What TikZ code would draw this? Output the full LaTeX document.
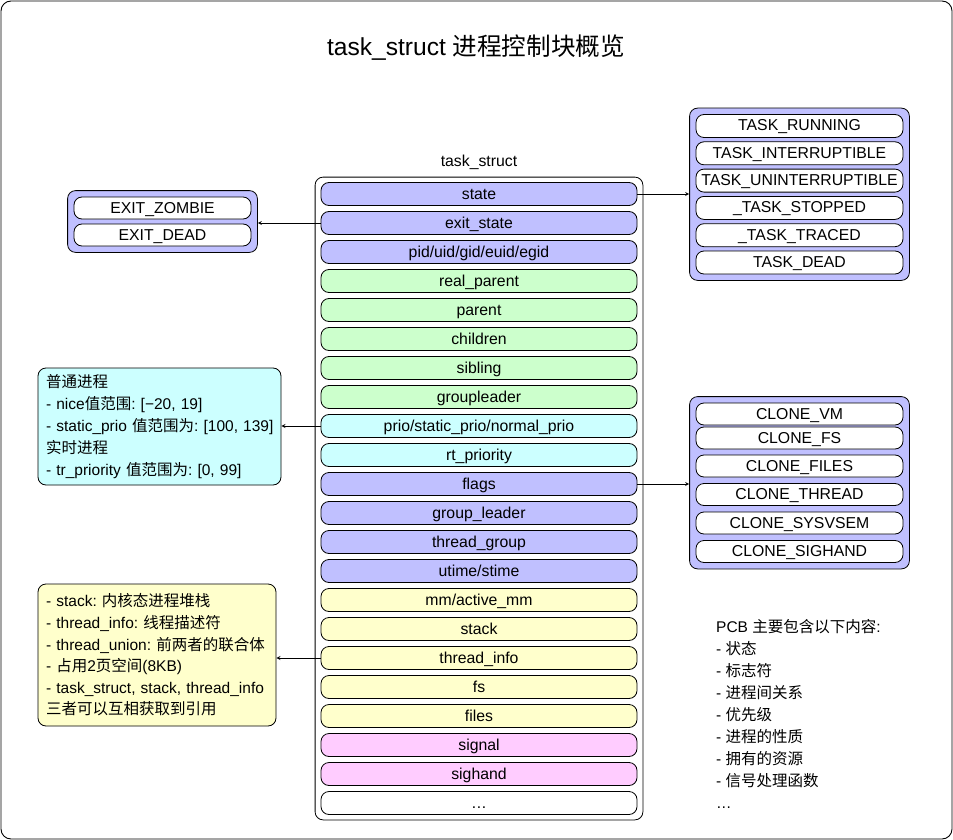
\documentclass[tikz,border=0pt]{standalone}
\usepackage{fontspec}
\setmainfont{Liberation Sans}
\newfontfamily\cjk{Noto Sans CJK SC}
\newcommand{\zh}[1]{{\cjk #1}}
\frenchspacing
\usetikzlibrary{arrows, positioning, fit, backgrounds}

\definecolor{stateblue}{RGB}{192,192,255}
\definecolor{relgreen}{RGB}{204,255,204}
\definecolor{priocyan}{RGB}{204,255,255}
\definecolor{memyellow}{RGB}{255,255,204}
\definecolor{sigpink}{RGB}{255,204,255}

\tikzstyle{field} = [rectangle, rounded corners=8pt, draw=black, line width=0.8pt, minimum width=316pt, minimum height=23pt, inner sep=0pt, text height=12.5pt, text depth=2.5pt, font=\fontsize{15.8}{18}\selectfont]
\tikzstyle{flag} = [field, minimum width=207pt, fill=white]
\tikzstyle{group} = [rectangle, rounded corners=8pt, draw=black, line width=0.8pt, fill=stateblue, inner sep=6pt]
\tikzstyle{note} = [rectangle, rounded corners=8pt, draw=black, line width=0.8pt, align=left, inner sep=0pt]
\tikzstyle{arrow} = [line width=0.8pt, ->, >=stealth]

\begin{document}
\begin{tikzpicture}[x=1pt, y=-1pt, node distance=5.2pt]
    \useasboundingbox (0,0) rectangle (953,840);
    \draw [rounded corners=10pt, line width=0.9pt] (1,1) rectangle (952,839);
    \node (title) at (476,48) {\fontsize{24.6}{28}\selectfont task\_struct \zh{进程控制块概览}};

    % Fields of task_struct
    \node (state) [field, fill=stateblue] at (479,194) {state};
    \node (exitstate) [field, fill=stateblue, below=of state] {exit\_state};
    \node (pid) [field, fill=stateblue, below=of exitstate] {pid/uid/gid/euid/egid};
    \node (realparent) [field, fill=relgreen, below=of pid] {real\_parent};
    \node (parent) [field, fill=relgreen, below=of realparent] {parent};
    \node (children) [field, fill=relgreen, below=of parent] {children};
    \node (sibling) [field, fill=relgreen, below=of children] {sibling};
    \node (groupleader) [field, fill=relgreen, below=of sibling] {groupleader};
    \node (prio) [field, fill=priocyan, below=of groupleader] {prio/static\_prio/normal\_prio};
    \node (rtprio) [field, fill=priocyan, below=of prio] {rt\_priority};
    \node (flags) [field, fill=stateblue, below=of rtprio] {flags};
    \node (leader) [field, fill=stateblue, below=of flags] {group\_leader};
    \node (threadgroup) [field, fill=stateblue, below=of leader] {thread\_group};
    \node (utime) [field, fill=stateblue, below=of threadgroup] {utime/stime};
    \node (mm) [field, fill=memyellow, below=of utime] {mm/active\_mm};
    \node (stack) [field, fill=memyellow, below=of mm] {stack};
    \node (threadinfo) [field, fill=memyellow, below=of stack] {thread\_info};
    \node (fs) [field, fill=memyellow, below=of threadinfo] {fs};
    \node (files) [field, fill=memyellow, below=of fs] {files};
    \node (signal) [field, fill=sigpink, below=of files] {signal};
    \node (sighand) [field, fill=sigpink, below=of signal] {sighand};
    \node (more) [field, fill=white, below=of sighand] {…};

    \node (task) [draw, rounded corners=8pt, line width=0.8pt, inner xsep=5.5pt, inner ysep=5pt, fit=(state)(more)] {};
    \node (tasklabel) [above=7pt of task, inner sep=0pt, text height=12.5pt, text depth=2.5pt, font=\fontsize{15.8}{18}\selectfont] {task\_struct};

    % exit states
    \node (zombie) [flag, minimum width=177pt, minimum height=22pt] at (162.5,208) {EXIT\_ZOMBIE};
    \node (exitdead) [flag, minimum width=177pt, minimum height=22pt, below=4.2pt of zombie] {EXIT\_DEAD};

    % task states
    \node (running) [flag] at (799.5,126) {TASK\_RUNNING};
    \node (interruptible) [flag, below=3.5pt of running] {TASK\_INTERRUPTIBLE};
    \node (uninterruptible) [flag, below=3.5pt of interruptible] {TASK\_UNINTERRUPTIBLE};
    \node (stopped) [flag, below=3.5pt of uninterruptible] {\_TASK\_STOPPED};
    \node (traced) [flag, below=3.5pt of stopped] {\_TASK\_TRACED};
    \node (taskdead) [flag, below=3.5pt of traced] {TASK\_DEAD};

    % clone flags
    \node (vm) [flag, minimum height=22pt] at (799.5,414) {CLONE\_VM};
    \node (clonefs) [flag, minimum height=22pt, below=1.2pt of vm] {CLONE\_FS};
    \node (clonefiles) [flag, minimum height=22pt, below=5.2pt of clonefs] {CLONE\_FILES};
    \node (clonethread) [flag, minimum height=22pt, below=5.7pt of clonefiles] {CLONE\_THREAD};
    \node (sysvsem) [flag, minimum height=22pt, below=5.7pt of clonethread] {CLONE\_SYSVSEM};
    \node (clonesighand) [flag, minimum height=22pt, below=5.7pt of sysvsem] {CLONE\_SIGHAND};

    \begin{scope}[on background layer]
        \node (exitbox) [group, fit=(zombie)(exitdead)] {};
        \node (statebox) [group, fit=(running)(taskdead)] {};
        \node (clonebox) [group, fit=(vm)(clonesighand)] {};
    \end{scope}

    % notes
    \node (prionote) [note, fill=priocyan, minimum width=243pt, minimum height=117pt, text width=235pt, font=\fontsize{15.5}{21.8}\selectfont] at (159.5,426.5)
        {\hspace*{4pt}\zh{普通进程}\\\hspace*{4pt}- nice\zh{值范围}: [−20, 19]\\\hspace*{4pt}- static\_prio \zh{值范围为}: [100, 139]\\\hspace*{4pt}\zh{实时进程}\\\hspace*{4pt}- tr\_priority \zh{值范围为}: [0, 99]};
    \node (stacknote) [note, fill=memyellow, minimum width=238pt, minimum height=142pt, text width=222pt, font=\fontsize{15.5}{21.6}\selectfont] at (157,655)
        {- stack: \zh{内核态进程堆栈}\\- thread\_info: \zh{线程描述符}\\- thread\_union: \zh{前两者的联合体}\\- \zh{占用}2\zh{页空间}(8KB)\\- task\_struct, stack, thread\_info\\\zh{三者可以互相获取到引用}};
    \node (pcb) [anchor=north west, align=left, inner sep=0pt, font=\fontsize{15.5}{22}\selectfont] at (716,619)
        {PCB \zh{主要包含以下内容}:\\- \zh{状态}\\- \zh{标志符}\\- \zh{进程间关系}\\- \zh{优先级}\\- \zh{进程的性质}\\- \zh{拥有的资源}\\- \zh{信号处理函数}\\…};

    % Arrows
    \draw [arrow] (state.east) -- (state.east -| statebox.west);
    \draw [arrow] (exitstate.west) -- (exitstate.west -| exitbox.east);
    \draw [arrow] (prio.west) -- (prio.west -| prionote.east);
    \draw [arrow] (flags.east) -- (flags.east -| clonebox.west);
    \draw [arrow] (threadinfo.west) -- (threadinfo.west -| stacknote.east);
\end{tikzpicture}
\end{document}
